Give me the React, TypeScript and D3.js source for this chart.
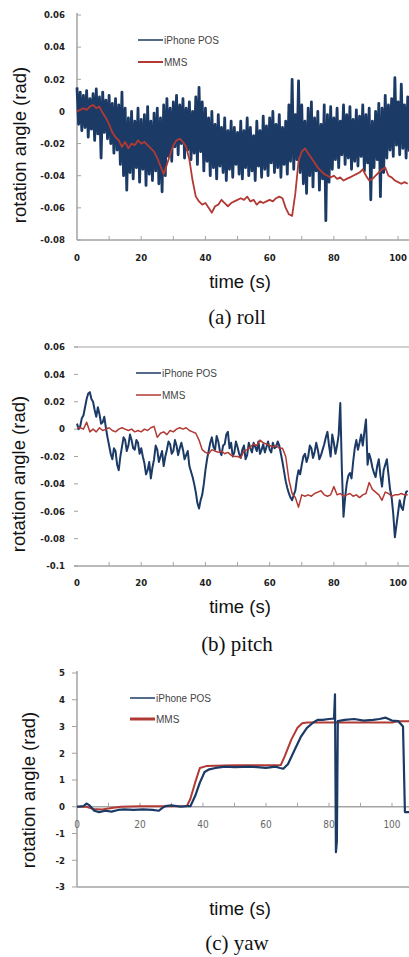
import React from 'react';
import * as d3 from 'd3';

const BLUE = '#1b3a66';
const RED = '#b23a35';
const AXIS = '#a3a3a3';
const TICK_FONT = '"Liberation Sans Narrow", "DejaVu Sans Condensed", "Liberation Sans", sans-serif';
const SANS = '"Liberation Sans", Arial, sans-serif';
const SERIF = '"Liberation Serif", "Times New Roman", serif';

// ---- (a) roll : iPhone peaks (at t) / troughs (at t+0.5) for each second, MMS each second
const rollIphoneHigh = [
  0.015, 0.012, 0.010, 0.013, 0.008, 0.011, 0.014, 0.009, 0.012, 0.007,
  0.010, 0.005, 0.008, 0.004, 0.012, 0.002, -0.004, 0.000, -0.006, 0.002,
  -0.005, -0.002, 0.003, -0.006, -0.001, 0.002, -0.004, 0.004, 0.008, 0.002,
  0.006, 0.010, 0.004, 0.008, 0.002, 0.006, 0.000, 0.009, 0.015, 0.006,
  0.002, -0.004, 0.000, -0.008, -0.002, -0.010, -0.004, -0.012, -0.006, -0.010,
  -0.013, -0.006, -0.012, -0.004, -0.010, -0.015, -0.006, -0.012, -0.003, -0.009,
  -0.004, 0.000, -0.008, -0.002, -0.010, -0.006, 0.004, 0.020, -0.002, 0.019,
  0.004, -0.006, 0.002, 0.006, -0.004, 0.000, -0.008, 0.004, -0.002, 0.003,
  -0.004, 0.002, -0.006, 0.004, -0.002, 0.003, -0.005, 0.001, -0.003, 0.004,
  -0.002, 0.002, -0.006, 0.000, 0.005, 0.002, 0.010, 0.004, 0.008, 0.021,
  0.006, 0.017, 0.004, 0.009,
];
const rollIphoneLow = [
  -0.008, -0.012, -0.010, -0.016, -0.011, -0.018, -0.014, -0.029, -0.013, -0.017,
  -0.020, -0.026, -0.024, -0.033, -0.040, -0.049, -0.038, -0.042, -0.035, -0.044,
  -0.036, -0.046, -0.039, -0.043, -0.037, -0.045, -0.050, -0.040, -0.028, -0.031,
  -0.022, -0.027, -0.020, -0.029, -0.024, -0.030, -0.026, -0.033, -0.025, -0.037,
  -0.031, -0.040, -0.035, -0.042, -0.034, -0.038, -0.043, -0.036, -0.041, -0.033,
  -0.039, -0.042, -0.035, -0.040, -0.037, -0.043, -0.034, -0.041, -0.036, -0.040,
  -0.032, -0.038, -0.035, -0.041, -0.033, -0.039, -0.031, -0.036, -0.030, -0.038,
  -0.045, -0.051, -0.040, -0.047, -0.037, -0.049, -0.042, -0.068, -0.044, -0.036,
  -0.030, -0.035, -0.027, -0.033, -0.029, -0.036, -0.031, -0.034, -0.028, -0.037,
  -0.032, -0.055, -0.035, -0.030, -0.053, -0.038, -0.029, -0.024, -0.028, -0.021,
  -0.027, -0.023, -0.029, -0.025,
];
const rollMms = [
  0.000, 0.001, 0.002, 0.001, 0.003, 0.004, 0.002, 0.003, -0.001, -0.004,
  -0.008, -0.013, -0.016, -0.018, -0.022, -0.019, -0.023, -0.020, -0.021, -0.018,
  -0.020, -0.019, -0.021, -0.023, -0.025, -0.029, -0.034, -0.039, -0.033, -0.027,
  -0.021, -0.018, -0.017, -0.019, -0.022, -0.030, -0.043, -0.053, -0.056, -0.058,
  -0.057, -0.060, -0.063, -0.059, -0.058, -0.055, -0.057, -0.059, -0.057, -0.056,
  -0.055, -0.054, -0.055, -0.053, -0.056, -0.055, -0.058, -0.056, -0.057, -0.056,
  -0.055, -0.056, -0.054, -0.053, -0.054, -0.060, -0.064, -0.065, -0.051, -0.031,
  -0.025, -0.023, -0.026, -0.029, -0.032, -0.035, -0.037, -0.039, -0.040, -0.041,
  -0.040, -0.042, -0.041, -0.043, -0.042, -0.041, -0.040, -0.039, -0.038, -0.036,
  -0.040, -0.043, -0.042, -0.040, -0.038, -0.036, -0.035, -0.040, -0.041, -0.043,
  -0.044, -0.045, -0.044, -0.045,
];

// ---- (b) pitch, value at each second and at each half second
const pitchIphone = [
  0.004, 0.002, 0.010, 0.022, 0.027, 0.020, 0.009, 0.011, 0.005, 0.001,
  -0.012, -0.022, -0.016, -0.030, -0.013, -0.008, -0.012, -0.008, -0.015, -0.010,
  -0.014, -0.025, -0.030, -0.036, -0.022, -0.015, -0.020, -0.027, -0.015, -0.011,
  -0.016, -0.012, -0.014, -0.015, -0.019, -0.027, -0.035, -0.046, -0.058, -0.048,
  -0.030, -0.016, -0.006, -0.015, -0.009, -0.019, -0.011, -0.002, -0.010, -0.017,
  -0.013, -0.021, -0.012, -0.019, -0.014, -0.010, -0.016, -0.018, -0.011, -0.013,
  -0.015, -0.010, -0.013, -0.012, -0.024, -0.038, -0.047, -0.052, -0.045, -0.030,
  -0.026, -0.018, -0.020, -0.014, -0.017, -0.015, -0.019, -0.011, -0.002, -0.020,
  -0.010, -0.012, 0.019, -0.064, -0.040, -0.032, -0.024, -0.008, -0.010, -0.012,
  0.007, -0.018, -0.028, -0.035, -0.022, -0.042, -0.026, -0.033, -0.050, -0.079,
  -0.061, -0.057, -0.051, -0.045,
];
const pitchIphoneHalf = [
  0.000, 0.008, 0.016, 0.026, 0.022, 0.014, 0.016, 0.004, 0.009, -0.006,
  -0.018, -0.014, -0.026, -0.020, -0.006, -0.016, -0.004, -0.014, -0.008, -0.018,
  -0.020, -0.033, -0.024, -0.028, -0.012, -0.024, -0.016, -0.020, -0.009, -0.018,
  -0.008, -0.019, -0.010, -0.022, -0.016, -0.031, -0.040, -0.054, -0.052, -0.040,
  -0.022, -0.010, -0.013, -0.005, -0.016, -0.012, -0.004, -0.014, -0.020, -0.009,
  -0.018, -0.015, -0.022, -0.010, -0.017, -0.013, -0.009, -0.015, -0.017, -0.009,
  -0.017, -0.014, -0.009, -0.018, -0.031, -0.043, -0.050, -0.048, -0.036, -0.033,
  -0.020, -0.024, -0.012, -0.021, -0.010, -0.022, -0.015, -0.006, -0.012, -0.004,
  -0.018, -0.004, -0.030, -0.050, -0.034, -0.036, -0.014, -0.015, -0.004, -0.002,
  -0.026, -0.022, -0.032, -0.027, -0.034, -0.030, -0.022, -0.044, -0.062, -0.070,
  -0.052, -0.059, -0.046,
];
const pitchMms = [
  0.001, 0.001, 0.000, 0.005, -0.002, 0.000, -0.002, 0.001, -0.001, 0.000,
  0.001, -0.001, -0.002, 0.000, 0.001, 0.000, -0.001, 0.000, -0.002, -0.001,
  -0.002, 0.000, -0.001, 0.001, 0.002, -0.006, -0.003, -0.002, -0.004, -0.001,
  -0.002, 0.000, 0.001, 0.000, 0.001, -0.001, -0.002, -0.003, -0.008, -0.015,
  -0.017, -0.018, -0.015, -0.016, -0.017, -0.016, -0.018, -0.017, -0.019, -0.020,
  -0.020, -0.021, -0.016, -0.015, -0.013, -0.011, -0.012, -0.008, -0.010, -0.011,
  -0.012, -0.013, -0.012, -0.014, -0.014, -0.020, -0.037, -0.047, -0.050, -0.057,
  -0.048, -0.049, -0.048, -0.049, -0.047, -0.046, -0.045, -0.048, -0.049, -0.048,
  -0.042, -0.048, -0.047, -0.049, -0.048, -0.047, -0.049, -0.048, -0.050, -0.048,
  -0.047, -0.039, -0.044, -0.046, -0.048, -0.052, -0.046, -0.047, -0.049, -0.048,
  -0.048, -0.047, -0.048, -0.048,
];

// ---- (c) yaw, irregular sample times
const yawMmsTime = [0, 3, 5, 8, 11, 14, 20, 30, 34.9, 36, 37.5, 39, 41, 50, 60, 64.7, 66, 68, 70, 71.5, 73, 80, 90, 100, 102, 105.4];
const yawMms = [0, 0, -0.08, -0.1, -0.05, 0, 0.02, 0.02, 0.03, 0.3, 0.9, 1.45, 1.52, 1.55, 1.55, 1.56, 1.9, 2.5, 2.95, 3.12, 3.15, 3.15, 3.15, 3.15, 3.2, 3.2];
const yawIphoneTime = [
  0, 2, 3, 4, 5.5, 7, 9, 11, 13, 15, 18, 21, 24, 26, 27, 28, 30, 33, 35, 36, 37.5, 39, 40.5,
  42, 44, 47, 50, 55, 60, 63, 64.5, 65.5, 67, 69, 71, 73, 75, 76.5, 78, 80, 81.6, 81.9, 82.2,
  82.5, 82.8, 85, 88, 91, 94, 96, 98, 100, 102, 103.5, 104.1, 105.4,
];
const yawIphone = [
  0, 0.02, 0.12, 0.05, -0.15, -0.2, -0.15, -0.18, -0.12, -0.1, -0.12, -0.1, -0.12, -0.15, -0.05, 0.02, 0.05, 0, 0.02, 0.02, 0.4, 0.9, 1.3,
  1.4, 1.45, 1.5, 1.48, 1.5, 1.45, 1.5, 1.45, 1.42, 1.6, 2.1, 2.6, 2.95, 3.15, 3.25, 3.25, 3.28, 3.3, 4.2, -1.7,
  -1.3, 3.2, 3.25, 3.28, 3.22, 3.25, 3.28, 3.33, 3.22, 3.2, 3.0, -0.2, -0.2,
];

const rollTicks = [0.06, 0.04, 0.02, 0, -0.02, -0.04, -0.06, -0.08];
const rollTickLabels = ['0.06', '0.04', '0.02', '0', '-0.02', '-0.04', '-0.06', '-0.08'];
const pitchTicks = [0.06, 0.04, 0.02, 0, -0.02, -0.04, -0.06, -0.08, -0.1];
const pitchTickLabels = ['0.06', '0.04', '0.02', '0', '-0.02', '-0.04', '-0.06', '-0.08', '-0.1'];
const yawTicks = [5, 4, 3, 2, 1, 0, -1, -2, -3];
const yawTickLabels = ['5', '4', '3', '2', '1', '0', '-1', '-2', '-3'];
const timeTicks = [0, 20, 40, 60, 80, 100];
const timeMinor = [10, 20, 30, 40, 50, 60, 70, 80, 90, 100];
const seriesNames = ['iPhone POS', 'MMS'];

type Pt = [number, number];
type Series = { pts: Pt[]; color: string; width: number };

const perSecond = (vals: number[]): Pt[] => vals.map((v, i) => [i, v] as Pt);
// whole-second values followed by the half-second values read between them
const withHalves = (whole: number[], half: number[]): Pt[] =>
  whole.flatMap((v, i) => (i < half.length ? [[i, v] as Pt, [i + 0.5, half[i]] as Pt] : [[i, v] as Pt]));
const pairs = (t: number[], v: number[]): Pt[] => t.map((d, i) => [d, v[i]] as Pt);

type PanelProps = {
  top: number;
  bottom: number;
  xMax: number;
  yDomain: [number, number];
  ticks: number[];
  tickLabels: string[];
  series: Series[];
  legend: { x: number; y1: number; y2: number; w1: number; w2: number };
  yLine: boolean;
  topLine: boolean;
  zeroAxis: boolean;
  titleX: number;
  titleY: number;
  tickLabelY: number;
  timeY: number;
  caption: string;
  captionY: number;
  lightX?: boolean;
};

function Panel(p: PanelProps) {
  const x = d3.scaleLinear().domain([0, p.xMax]).range([77, 409]);
  const y = d3.scaleLinear().domain(p.yDomain).range([p.bottom, p.top]);
  const line = d3.line<Pt>().x(d => x(d[0])).y(d => y(d[1]));
  const axisY = p.zeroAxis ? y(0) : p.bottom;

  return (
    <g>
      {p.topLine && <line x1={74} x2={409} y1={p.top} y2={p.top} stroke={AXIS} strokeWidth={1.2} />}
      {p.yLine && <line x1={77} x2={77} y1={p.top - 2} y2={p.bottom} stroke={AXIS} strokeWidth={1.5} />}
      {p.zeroAxis && <line x1={77} x2={409} y1={p.bottom} y2={p.bottom} stroke={AXIS} strokeWidth={1.5} />}
      <line x1={p.yLine ? 77 : 74} x2={409} y1={axisY} y2={axisY} stroke={AXIS} strokeWidth={1.5} />
      {timeMinor.map(t => (
        <line key={t} x1={x(t)} x2={x(t)} y1={axisY - 4} y2={axisY} stroke={AXIS} strokeWidth={1} />
      ))}
      {p.ticks.map(t => (
        <line key={t} x1={p.zeroAxis ? 72 : p.yLine ? 77 : 74} x2={p.zeroAxis ? 77 : p.yLine ? 81 : 78}
          y1={y(t)} y2={y(t)} stroke={AXIS} strokeWidth={1} />
      ))}
      {p.ticks.map((t, i) => (
        <text key={t} x={65} y={y(t)} dy="0.35em" textAnchor="end" fontFamily={TICK_FONT}
          fontWeight="bold" fontSize={9.5} fill="#222">{p.tickLabels[i]}</text>
      ))}
      {timeTicks.map(t => (
        <text key={t} x={x(t)} y={p.tickLabelY} textAnchor="middle" fontFamily={TICK_FONT}
          fontWeight={p.lightX ? 'normal' : 'bold'} fontSize={p.lightX ? 10 : 9.5}
          fill={p.lightX ? '#666' : '#222'}>{t}</text>
      ))}
      {p.series.map((s, i) => (
        <path key={i} d={line(s.pts) || ''} fill="none" stroke={s.color} strokeWidth={s.width}
          strokeLinejoin="round" />
      ))}
      <line x1={p.legend.x} x2={p.legend.x + 25} y1={p.legend.y1} y2={p.legend.y1} stroke={BLUE} strokeWidth={p.legend.w1} />
      <line x1={p.legend.x} x2={p.legend.x + 25} y1={p.legend.y2} y2={p.legend.y2} stroke={RED} strokeWidth={p.legend.w2} />
      <text x={p.legend.x + 26} y={p.legend.y1} dy="0.35em" fontFamily={SANS} fontSize={10} fill="#444">{seriesNames[0]}</text>
      <text x={p.legend.x + 26} y={p.legend.y2} dy="0.35em" fontFamily={SANS} fontSize={10} fill="#444">{seriesNames[1]}</text>
      <text transform={`translate(${p.titleX},${p.titleY}) rotate(-90)`} textAnchor="middle" dy="0.35em"
        fontFamily={SANS} fontSize={18.5} fill="#111">rotation angle (rad)</text>
      <text x={240} y={p.timeY} textAnchor="middle" fontFamily={SANS} fontSize={18.5} fill="#111">time (s)</text>
      <text x={237} y={p.captionY} textAnchor="middle" fontFamily={SERIF} fontSize={21} fill="#111">{p.caption}</text>
    </g>
  );
}

export default function App() {
  return (
    <svg width={409} height={957} style={{ position: 'absolute', left: 0, top: 0, background: '#fff' }}>
      <rect width={409} height={957} fill="#fff" />
      <Panel
        top={15} bottom={240} xMax={103.4} yDomain={[-0.08, 0.06]}
        ticks={rollTicks} tickLabels={rollTickLabels}
        series={[
          { pts: withHalves(rollIphoneHigh, rollIphoneLow), color: BLUE, width: 2.8 },
          { pts: perSecond(rollMms), color: RED, width: 1.8 },
        ]}
        legend={{ x: 138, y1: 40, y2: 62, w1: 1.5, w2: 2 }}
        yLine topLine={false} zeroAxis={false}
        titleX={20} titleY={145} tickLabelY={261} timeY={288}
        caption="(a) roll" captionY={324}
      />
      <Panel
        top={347} bottom={566} xMax={103.4} yDomain={[-0.1, 0.06]}
        ticks={pitchTicks} tickLabels={pitchTickLabels}
        series={[
          { pts: withHalves(pitchIphone, pitchIphoneHalf), color: BLUE, width: 2 },
          { pts: perSecond(pitchMms), color: RED, width: 1.5 },
        ]}
        legend={{ x: 136, y1: 373, y2: 395, w1: 1.5, w2: 1.5 }}
        yLine={false} topLine zeroAxis={false}
        titleX={19} titleY={474} tickLabelY={586} timeY={613}
        caption="(b) pitch" captionY={651}
      />
      <Panel
        top={673} bottom={887} xMax={105.4} yDomain={[-3, 5]}
        ticks={yawTicks} tickLabels={yawTickLabels}
        series={[
          { pts: pairs(yawMmsTime, yawMms), color: RED, width: 2 },
          { pts: pairs(yawIphoneTime, yawIphone), color: BLUE, width: 2.2 },
        ]}
        legend={{ x: 130, y1: 698, y2: 719, w1: 1.5, w2: 3 }}
        yLine topLine={false} zeroAxis
        titleX={29} titleY={790} tickLabelY={828} timeY={915}
        caption="(c) yaw" captionY={950} lightX
      />
    </svg>
  );
}
